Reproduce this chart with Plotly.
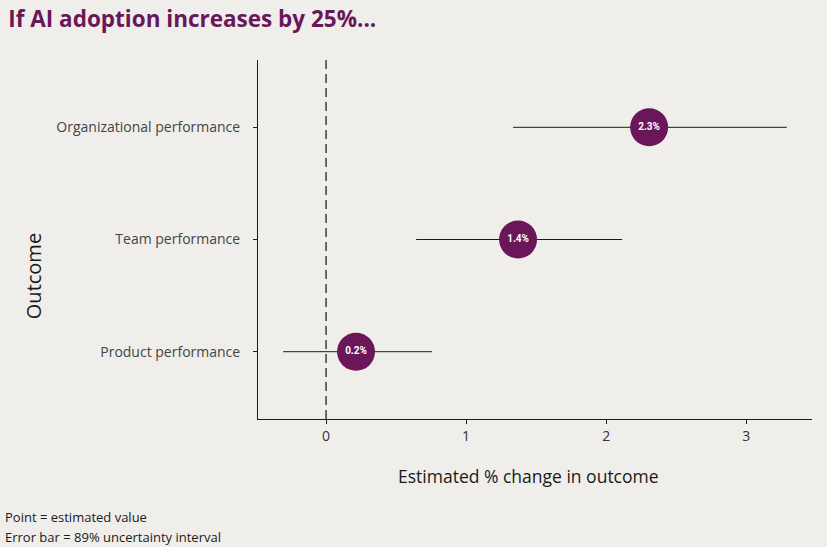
import plotly.graph_objects as go

# Estimates per outcome (bottom to top)
outcomes = ["Product performance", "Team performance", "Organizational performance"]
estimates = [0.214, 1.371, 2.307]
lower = [-0.307, 0.643, 1.336]
upper = [0.757, 2.114, 3.29]
labels = ["0.2%", "1.4%", "2.3%"]

purple = "#6A1658"
bg = "#EFEEEA"
font_family = "Open Sans, Roboto, sans-serif"

fig = go.Figure()

fig.add_trace(go.Scatter(
    x=estimates,
    y=outcomes,
    mode="markers+text",
    text=["<b>" + t + "</b>" for t in labels],
    textposition="middle center",
    textfont=dict(color="white", size=10, family="Roboto"),
    marker=dict(size=38, color=purple, line=dict(width=0)),
    error_x=dict(
        type="data",
        symmetric=False,
        array=[u - e for u, e in zip(upper, estimates)],
        arrayminus=[e - l for e, l in zip(estimates, lower)],
        color="#1a1a1a",
        thickness=1,
        width=0,
    ),
    showlegend=False,
    hoverinfo="skip",
))

# reference line at zero
fig.add_vline(x=0, line=dict(color="#111111", width=1.2, dash="9px,5px"))

fig.update_layout(
    width=827,
    height=547,
    paper_bgcolor=bg,
    plot_bgcolor=bg,
    margin=dict(l=258, r=15, t=60, b=128),
    font=dict(family=font_family, color="#333333"),
    title=dict(
        text="<b>If AI adoption increases by 25%...</b>",
        x=0.01, xanchor="left", y=0.965, yanchor="middle",
        font=dict(size=22.5, color=purple, family=font_family),
    ),
    xaxis=dict(
        range=[-0.486, 3.47],
        tickvals=[0, 1, 2, 3],
        showgrid=False, zeroline=False,
        showline=True, linecolor="#1a1a1a", linewidth=1,
        ticks="outside", ticklen=4, tickcolor="#1a1a1a",
        tickfont=dict(size=14, color="#333333"),
    ),
    yaxis=dict(
        range=[-0.6, 2.6],
        showgrid=False, zeroline=False,
        showline=True, linecolor="#1a1a1a", linewidth=1,
        ticks="outside", ticklen=4, tickcolor="#1a1a1a",
        tickfont=dict(size=14, color="#444444"),
        ticklabelstandoff=10,
    ),
)

fig.add_annotation(
    text="Estimated % change in outcome",
    xref="paper", yref="paper", x=0.489, y=-0.159,
    xanchor="center", yanchor="middle", showarrow=False,
    font=dict(size=17.5, color="#1a1a1a"),
)

fig.add_annotation(
    text="Outcome", textangle=-90,
    xref="paper", yref="paper", x=-0.406, y=0.398,
    xanchor="center", yanchor="middle", showarrow=False,
    font=dict(size=20, color="#1a1a1a"),
)

notes = ["Point = estimated value", "Error bar = 89% uncertainty interval"]
for i, note in enumerate(notes):
    fig.add_annotation(
        text=note,
        xref="paper", yref="paper", x=-0.46, y=-0.272 - i * 0.0557,
        xanchor="left", yanchor="middle", align="left", showarrow=False,
        font=dict(size=13, color="#1a1a1a"),
    )

fig.write_html(
    "out.html",
    config={"displayModeBar": False},
    post_script="document.body.style.margin='0';document.body.style.background='%s';" % bg,
)
